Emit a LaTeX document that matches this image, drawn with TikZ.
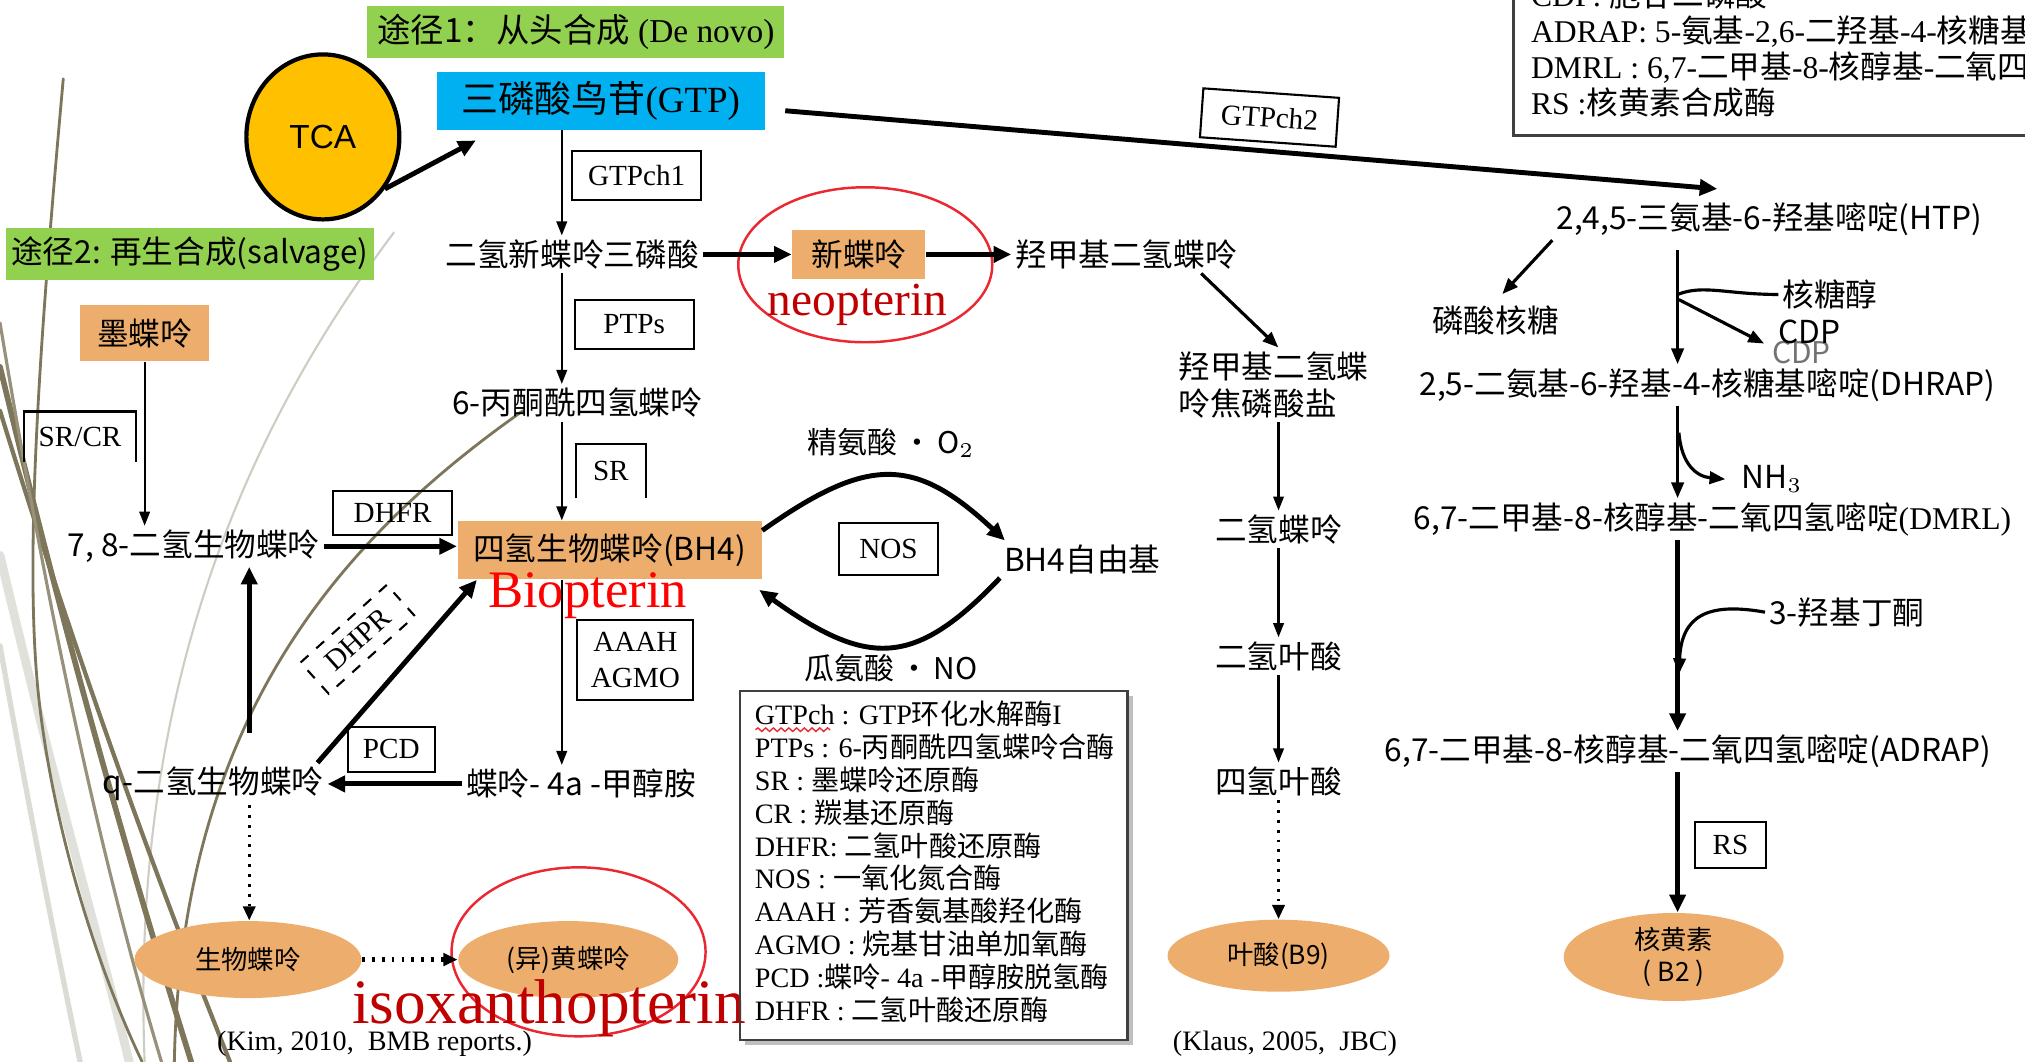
\documentclass[tikz,border=0pt]{standalone}
\usepackage{fontspec}
\usepackage{tikz}
\usetikzlibrary{arrows.meta,shapes.geometric,decorations.pathmorphing}

\setmainfont{Liberation Serif}
\newfontfamily\cjk{Noto Sans CJK SC}
\newfontfamily\arialfont{Liberation Sans}
\newcommand{\zh}[1]{{\cjk #1}}

\definecolor{headgreen}{RGB}{146,208,80}
\definecolor{gtpblue}{RGB}{0,176,240}
\definecolor{tcagold}{RGB}{255,192,0}
\definecolor{boxorange}{RGB}{237,174,109}
\definecolor{ringred}{RGB}{235,40,50}
\definecolor{labelred}{RGB}{192,0,0}
\definecolor{grassolive}{RGB}{125,118,90}
\definecolor{grassgrey}{RGB}{205,205,195}

\tikzset{
  chem/.style={font=\cjk\fontsize{9}{10.5}\selectfont, inner sep=1pt},
  enzbox/.style={draw, line width=0.6pt, font=\fontsize{8.3}{9.5}\selectfont, inner sep=1pt},
  pathhead/.style={fill=headgreen, inner sep=0pt},
  orgbox/.style={fill=boxorange, inner sep=0pt, font=\cjk\fontsize{9}{10}\selectfont},
  endprod/.style={ellipse, fill=boxorange, inner sep=0pt, font=\cjk\fontsize{7.5}{9}\selectfont},
  redring/.style={ellipse, draw=ringred, line width=0.7pt, inner sep=0pt},
  thinarr/.style={-{Triangle[length=4pt,width=3pt]}, line width=0.6pt},
  medarr/.style={-{Triangle[length=4.5pt,width=3.5pt]}, line width=0.9pt},
  fatarr/.style={-{Triangle[length=5pt,width=4.5pt]}, line width=1.4pt},
  dotarr/.style={-{Triangle[length=4pt,width=3.5pt]}, line width=0.8pt, dotted},
  grass/.style={draw=grassolive, line width=#1, line cap=round},
}

\begin{document}
\begin{tikzpicture}[x=0.12915mm, y=-0.12915mm]
  \useasboundingbox (0,0) rectangle (1568,822);
  \fill[white] (0,0) rectangle (1568,822);

  % grass blades behind everything
  \draw[grass=2.5pt, draw=grassgrey!60] (0,430) .. controls (40,600) and (75,720) .. (100,822);
  \draw[grass=1.5pt, draw=grassgrey!70] (0,500) .. controls (25,640) and (45,740) .. (62,822);
  \draw[grass=0.6pt, draw=grassgrey] (305,180) .. controls (200,320) and (100,520) .. (112,822);
  \draw[grass=0.8pt] (49,61) .. controls (32,250) and (18,430) .. (30,540) .. controls (42,650) and (80,760) .. (110,822);
  \draw[grass=1.6pt] (0,284) .. controls (40,450) and (85,620) .. (148,822);
  \draw[grass=1.2pt] (0,318) .. controls (50,480) and (105,640) .. (178,822);
  \draw[grass=0.9pt, draw=grassolive!80] (0,250) .. controls (30,430) and (70,640) .. (125,822);
  \draw[grass=0.8pt] (405,318) .. controls (260,420) and (140,560) .. (135,822);

  % route headers
  \node[pathhead, minimum width=41.7mm, minimum height=5.2mm, font=\fontsize{9.5}{11}\selectfont] (denovo) at (446,25) {\zh{途径1：从头合成} (De novo)};
  \node[pathhead, minimum width=36.8mm, minimum height=5.2mm, font=\cjk\fontsize{9}{10}\selectfont] (salvage) at (147,197) {途径2: 再生合成(salvage)};

  % GTP and TCA
  \node[fill=gtpblue, minimum width=32.8mm, minimum height=5.8mm, inner sep=0pt, font=\fontsize{10.5}{12}\selectfont] (gtp) at (465,78) {\zh{三磷酸鸟苷}(GTP)};
  \node[ellipse, draw, line width=1.2pt, fill=tcagold, minimum width=15.3mm, minimum height=16.5mm, font=\arialfont\fontsize{9.5}{11}\selectfont] (tca) at (250,106) {TCA};

  % pterin branch
  \node[chem] (dhnt) at (443,197) {二氢新蝶呤三磷酸};
  \node[orgbox, minimum width=13.3mm, minimum height=4.9mm] (neo) at (665,197) {新蝶呤};
  \node[chem] (hmdhp) at (872,197) {羟甲基二氢蝶呤};
  \node[chem, align=left] (hmdhpp) at (986,298) {羟甲基二氢蝶\\呤焦磷酸盐};
  \node[chem] (dhpt) at (990,410) {二氢蝶呤};
  \node[chem] (dhf) at (990,508) {二氢叶酸};
  \node[chem] (thf) at (990,605) {四氢叶酸};
  \node[chem] (ptp) at (447,312) {6-丙酮酰四氢蝶呤};
  \node[orgbox, minimum width=30.4mm, minimum height=5.8mm] (bh4) at (472,426) {四氢生物蝶呤(BH4)};
  \node[chem] (bh4r) at (838,433) {BH4自由基};
  \node[chem] (carb) at (450,607) {蝶呤- 4a -甲醇胺};

  % salvage side
  \node[orgbox, minimum width=12.9mm, minimum height=5.6mm] (sep) at (112,258) {墨蝶呤};
  \node[chem] (dhbp) at (150,423) {7, 8-二氢生物蝶呤};
  \node[chem] (qdhbp) at (165,607) {q-二氢生物蝶呤};

  % riboflavin branch
  \node[chem] (htp) at (1370,170) {2,4,5-三氨基-6-羟基嘧啶(HTP)};
  \node[chem] (rp) at (1158,248) {磷酸核糖};
  \node[chem] (ribitol) at (1417,228) {核糖醇};
  \node[chem, text=black!55, font=\cjk\fontsize{8.5}{10}\selectfont] (cdpb) at (1395,273) {CDP};
  \node[chem] (cdp) at (1401,257) {CDP};
  \node[chem] (dhrap) at (1322,298) {2,5-二氨基-6-羟基-4-核糖基嘧啶(DHRAP)};
  \node[chem] (nh3) at (1372,371) {NH$_3$};
  \node[chem] (dmrl) at (1326,402) {6,7-二甲基-8-核醇基-二氧四氢嘧啶{\rmfamily(DMRL)}};
  \node[chem] (hb) at (1430,474) {3-羟基丁酮};
  \node[chem] (adrap) at (1307,582) {6,7-二甲基-8-核醇基-二氧四氢嘧啶(ADRAP)};

  % end products
  \node[endprod, minimum width=22.7mm, minimum height=7.7mm] (bio) at (192,743) {生物蝶呤};
  \node[endprod, minimum width=22mm, minimum height=7.7mm] (iso) at (440,743) {(异)黄蝶呤};
  \node[endprod, minimum width=22.2mm, minimum height=7.2mm] (b9) at (990,740) {叶酸(B9)};
  \node[endprod, align=center, minimum width=22mm, minimum height=8.8mm] (b2) at (1296,741) {核黄素\\( B2 )};

  % enzymes
  \node[enzbox, minimum width=12.9mm, minimum height=4.9mm] (gtpch1) at (493,136) {GTPch1};
  \node[enzbox, minimum width=13.6mm, minimum height=4.9mm, rotate=-4] (gtpch2) at (983,91) {GTPch2};
  \node[enzbox, minimum width=11.9mm, minimum height=4.9mm] (ptps) at (491,251) {PTPs};
  \node[enzbox, draw=none, minimum width=6.8mm, minimum height=5.2mm] (sr) at (473,365) {SR};
  \draw[line width=0.6pt] (sr.south west) -- (sr.north west) -- (sr.north east) -- (sr.south east);
  \node[enzbox, draw=none, minimum width=11mm, minimum height=4.8mm] (srcr) at (62,338) {SR/CR};
  \draw[line width=0.6pt] (srcr.south west) -- (srcr.north west) -- (srcr.north east) -- (srcr.south east);
  \node[enzbox, minimum width=11.9mm, minimum height=4.4mm] (dhfr) at (304,397) {DHFR};
  \node[enzbox, minimum width=9.9mm, minimum height=5.2mm] (nos) at (688,425) {NOS};
  \node[enzbox, align=center, font=\fontsize{8.3}{10}\selectfont, minimum width=11.6mm, minimum height=8mm] (aaah) at (492,511) {AAAH\\AGMO};
  \node[enzbox, minimum width=8.7mm, minimum height=4.5mm] (pcd) at (303,580) {PCD};
  \node[enzbox, dashed, minimum width=11.6mm, minimum height=4.2mm, rotate=42] (dhpr) at (277,495) {DHPR};
  \node[enzbox, minimum width=7.1mm, minimum height=4.6mm] (rs) at (1340,654) {RS};

  % NOS cycle side products
  \node[chem, font=\cjk\fontsize{8.5}{10}\selectfont] (arg) at (690,343) {精氨酸\,·\,O$_2$};
  \node[chem, font=\cjk\fontsize{8.5}{10}\selectfont] (cit) at (690,517) {瓜氨酸\,·\,NO};

  % highlighted pterins
  \node[redring, minimum width=25.4mm, minimum height=15.5mm] (neoring) at (670,205) {};
  \node[font=\fontsize{13.5}{15}\selectfont, text=labelred, inner sep=0pt] (neolbl) at (664,236) {neopterin};
  \node[font=\fontsize{15}{17}\selectfont, text=red, inner sep=0pt] (biolbl) at (455,461) {Biopterin};
  \node[redring, minimum width=25.4mm, minimum height=16.9mm] (isoring) at (448,737) {};
  \node[font=\fontsize{18}{20}\selectfont, text=labelred, inner sep=0pt] (isolbl) at (425,781) {isoxanthopterin};

  % sources
  \node[font=\fontsize{8}{9}\selectfont] (kim) at (290,808) {(Kim, 2010,\ \ BMB reports.)};
  \node[font=\fontsize{8}{9}\selectfont] (klaus) at (995,808) {(Klaus, 2005,\ \ JBC)};

  % vertical guide lines
  \coordinate (lx) at (435,0);
  \coordinate (ux) at (193,0);
  \coordinate (rx) at (1299,0);

  % de novo arrows
  \draw[fatarr] (tca.-40) -- ([xshift=4mm,yshift=-1mm]gtp.south west);
  \draw[thinarr] (gtp.south -| lx) -- (dhnt.north -| lx);
  \draw[fatarr] (dhnt.east) -- (neo.west);
  \draw[fatarr] (neo.east) -- (hmdhp.west);
  \draw[fatarr] ([xshift=2mm,yshift=-1mm]gtp.east) -- ([xshift=-5.2mm,yshift=1mm]htp.north);
  \draw[medarr] ([xshift=7.5mm]hmdhp.south) -- ([xshift=0.5mm]hmdhpp.north);
  \draw[thinarr] (hmdhpp.south -| dhpt) -- (dhpt.north);
  \draw[thinarr] (dhpt.south) -- (dhf.north);
  \draw[thinarr] (dhf.south) -- (thf.north);
  \draw[dotarr] (thf.south) -- (b9.north);
  \draw[thinarr] (dhnt.south -| lx) -- (ptp.north -| lx);
  \draw[thinarr] (ptp.south -| lx) -- (bh4.north -| lx);
  \draw[thinarr] (bh4.south -| lx) -- (carb.north -| lx);

  % NOS cycle
  \draw[fatarr] ([yshift=-1mm]bh4.north east) .. controls (672,353) and (708,353) .. ([xshift=0.5mm]bh4r.north west);
  \draw[fatarr] (bh4r.south west) .. controls (708,517) and (672,517) .. ([xshift=-0.3mm,yshift=-1mm]bh4.south east);

  % salvage and recycling arrows
  \draw[thinarr] (sep.south) -- (sep.south |- dhbp.north);
  \draw[fatarr] (dhbp.east) -- (dhbp.east -| bh4.west);
  \draw[fatarr] (carb.west) -- (carb.west -| qdhbp.east);
  \draw[fatarr, shorten <=3mm] (qdhbp.north -| ux) -- (dhbp.south -| ux);
  \draw[fatarr] ([xshift=-1mm]qdhbp.north east) -- ([xshift=2mm]bh4.south west);
  \draw[dotarr] (qdhbp.south -| ux) -- (bio.north -| ux);
  \draw[dotarr, line width=1.2pt] (bio.east) -- (iso.west);

  % riboflavin arrows
  \coordinate (ribj) at (1299,228);
  \coordinate (cdpj) at (1300,232);
  \coordinate (cdptip) at (1366,266);
  \coordinate (nhj) at (1300,335);
  \coordinate (hbj) at (1300,522);
  \draw[medarr, shorten >=1mm] (htp.south west) -- (rp.north);
  \draw[medarr, shorten <=1mm] (htp.south -| rx) -- (dhrap.north -| rx);
  \draw[line width=0.9pt] (ribitol.west) .. controls +(-40,0) and +(20,-8) .. (ribj);
  \draw[medarr] (cdpj) -- (cdptip);
  \draw[medarr] (dhrap.south -| rx) -- (dmrl.north -| rx);
  \draw[medarr] (nhj) .. controls +(2,25) and +(-22,-2) .. ([xshift=-1.2mm]nh3.west);
  \draw[fatarr] (dmrl.south -| rx) -- (adrap.north -| rx);
  \draw[medarr] (hb.west) .. controls +(-45,-8) and +(2,-45) .. (hbj);
  \draw[fatarr] (adrap.south -| rx) -- (b2.north -| rx);

  % abbreviation box, bottom middle
  \draw[gray!50, line width=1.5pt] (577,807) -- (875,807) -- (875,539);
  \draw[black!75, line width=0.6pt] (573,535) rectangle (873,805);
  \node[anchor=north west, align=left, inner sep=0pt, font=\fontsize{8}{9.37}\selectfont] (abbr) at (584,542) {%
    GTPch : GTP\zh{环化水解酶}I\\
    PTPs : 6-\zh{丙酮酰四氢蝶呤合酶}\\
    SR : \zh{墨蝶呤还原酶}\\
    CR : \zh{羰基还原酶}\\
    DHFR: \zh{二氢叶酸还原酶}\\
    NOS : \zh{一氧化氮合酶}\\
    AAAH : \zh{芳香氨基酸羟化酶}\\
    AGMO : \zh{烷基甘油单加氧酶}\\
    PCD :\zh{蝶呤}- 4a -\zh{甲醇胺脱氢酶}\\
    DHFR : \zh{二氢叶酸还原酶}};
  \draw[ringred, line width=0.4pt, decorate, decoration={snake, amplitude=0.5pt, segment length=2.2pt}] (585,565) -- (643,565);

  % abbreviation box, top right
  \draw[black!75, line width=0.8pt] (1172,-10) -- (1172,105) -- (1580,105);
  \node[anchor=base west, inner sep=0pt, font=\fontsize{9}{10.3}\selectfont] (abbr0) at (1185,5) {CDP: \zh{胞苷二磷酸}};
  \node[anchor=base west, inner sep=0pt, font=\fontsize{9}{10.3}\selectfont] (abbr1) at (1185,33) {ADRAP: 5-\zh{氨基}-2,6-\zh{二羟基}-4-\zh{核糖基氨基嘧啶}};
  \node[anchor=base west, inner sep=0pt, font=\fontsize{9}{10.3}\selectfont] (abbr2) at (1185,61) {DMRL : 6,7-\zh{二甲基}-8-\zh{核醇基}-\zh{二氧四氢蝶啶}};
  \node[anchor=base west, inner sep=0pt, font=\fontsize{9}{10.3}\selectfont] (abbr3) at (1185,89) {RS :\zh{核黄素合成酶}};
\end{tikzpicture}
\end{document}
